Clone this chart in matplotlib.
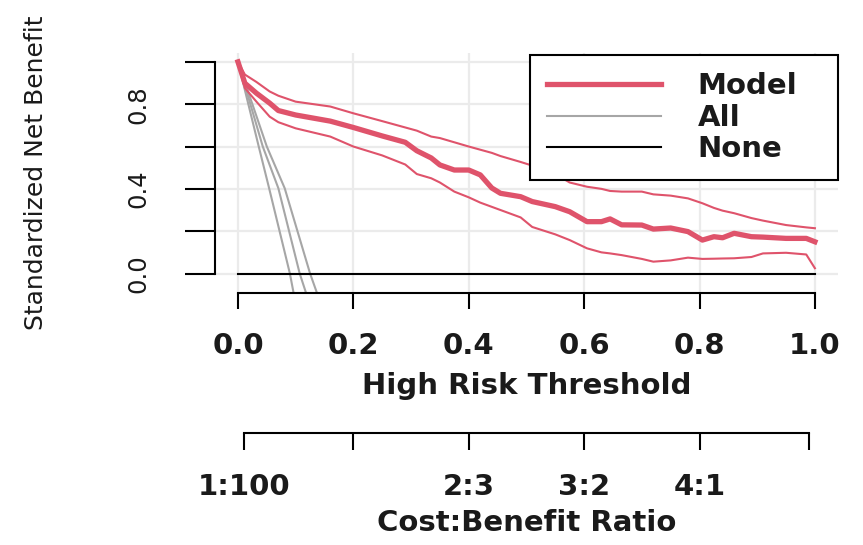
import matplotlib
matplotlib.use("Agg")
import matplotlib.pyplot as plt

thresholds = [0.0, 0.012, 0.032, 0.055, 0.07, 0.1, 0.16, 0.2, 0.25, 0.29, 0.31,
              0.335, 0.35, 0.375, 0.4, 0.42, 0.44, 0.455, 0.49, 0.51, 0.55, 0.575,
              0.605, 0.63, 0.645, 0.665, 0.7, 0.72, 0.75, 0.78, 0.805, 0.825, 0.84,
              0.86, 0.89, 0.91, 0.95, 0.985, 1.0]

model_snb = [1.0, 0.899, 0.852, 0.805, 0.77, 0.749, 0.72, 0.69, 0.65, 0.62, 0.58,
             0.546, 0.513, 0.489, 0.489, 0.466, 0.404, 0.379, 0.363, 0.34, 0.316, 0.292,
             0.245, 0.245, 0.258, 0.23, 0.229, 0.21, 0.215, 0.198, 0.158, 0.174, 0.169,
             0.19, 0.174, 0.172, 0.166, 0.166, 0.15]

model_upper = [1.0, 0.94, 0.905, 0.86, 0.84, 0.812, 0.789, 0.757, 0.72, 0.69, 0.675,
               0.647, 0.64, 0.62, 0.60, 0.585, 0.57, 0.555, 0.527, 0.51, 0.47, 0.43,
               0.41, 0.40, 0.39, 0.387, 0.387, 0.374, 0.368, 0.355, 0.332, 0.31, 0.297,
               0.285, 0.262, 0.25, 0.229, 0.218, 0.214]

model_lower = [1.0, 0.876, 0.812, 0.741, 0.715, 0.686, 0.647, 0.60, 0.558, 0.515, 0.47,
               0.45, 0.43, 0.387, 0.36, 0.335, 0.315, 0.30, 0.265, 0.22, 0.185, 0.158,
               0.119, 0.10, 0.095, 0.087, 0.069, 0.056, 0.062, 0.075, 0.069, 0.07, 0.071,
               0.072, 0.078, 0.095, 0.098, 0.09, 0.025]

# treat-all curves (estimate and CI)
all_thr_a = [0.0, 0.036, 0.054, 0.09, 0.097]
all_snb_a = [1.0, 0.6, 0.403, 0.0, -0.1]
all_thr_b = [0.0, 0.043, 0.07, 0.107, 0.119]
all_snb_b = [1.0, 0.6, 0.403, 0.0, -0.1]
all_thr_c = [0.0, 0.05, 0.081, 0.125, 0.138]
all_snb_c = [1.0, 0.6, 0.403, 0.0, -0.1]

none_thr = [0.0, 1.0]
none_snb = [0.0, 0.0]

x_ticks = [0.0, 0.2, 0.4, 0.6, 0.8, 1.0]
x_labels = ["0.0", "0.2", "0.4", "0.6", "0.8", "1.0"]
y_ticks = [0.0, 0.2, 0.4, 0.6, 0.8, 1.0]
y_labels = ["0.0", "", "0.4", "", "0.8", ""]
cb_ticks = [0.01, 0.2, 0.4, 0.6, 0.8, 0.99]
cb_labels = ["1:100", "", "2:3", "3:2", "4:1", ""]

red = "#DF536B"
gray = "#A6A6A6"
ink = "#1a1a1a"

plt.rcParams["font.family"] = ["DejaVu Sans"]
plt.rcParams["font.weight"] = "bold"
plt.rcParams["text.color"] = ink
plt.rcParams["xtick.labelcolor"] = ink
plt.rcParams["ytick.labelcolor"] = ink
plt.rcParams["axes.labelcolor"] = ink

fig = plt.figure(figsize=(8.63, 5.45), dpi=100)
ax = fig.add_axes([0.249, 0.4624, 0.722, 0.4404])
ax.set_xlim(-0.04, 1.04)
ax.set_ylim(-0.092, 1.042)

ax.grid(True, color="#EBEBEB", linewidth=1.6, zorder=0)
ax.set_axisbelow(True)

l_all, = ax.plot(all_thr_a, all_snb_a, color=gray, lw=1.5, zorder=2)
ax.plot(all_thr_b, all_snb_b, color=gray, lw=1.5, zorder=2)
ax.plot(all_thr_c, all_snb_c, color=gray, lw=1.5, zorder=2)
l_none, = ax.plot(none_thr, none_snb, color="black", lw=1.5, zorder=3)
ax.plot(thresholds, model_upper, color=red, lw=1.5, zorder=4)
ax.plot(thresholds, model_lower, color=red, lw=1.5, zorder=4)
l_model, = ax.plot(thresholds, model_snb, color=red, lw=3.8, zorder=5)

for s in ["top", "right"]:
    ax.spines[s].set_visible(False)
ax.spines["left"].set_bounds(0, 1)
ax.spines["bottom"].set_bounds(0, 1)
for s in ["left", "bottom"]:
    ax.spines[s].set_linewidth(1.5)

ax.set_xticks(x_ticks)
ax.set_xticklabels(x_labels)
ax.set_yticks(y_ticks)
ax.set_yticklabels(y_labels)
ax.tick_params(axis="x", length=11.5, width=1.5, pad=16.5, labelsize=21)
ax.tick_params(axis="y", length=21.6, width=1.5, pad=24.5, labelsize=17.5,
               labelrotation=90)
for t in ax.get_yticklabels():
    t.set_va("center")
    t.set_fontweight("normal")

ax.set_xlabel("High Risk Threshold", fontsize=21, fontweight="bold", labelpad=8.6)
ax.set_ylabel("Standardized Net Benefit", fontsize=18, fontweight="normal")
ax.yaxis.set_label_coords(-0.268, 0.5)

sec = ax.secondary_xaxis(-0.583)
sec.set_xticks(cb_ticks)
sec.set_xticklabels(cb_labels)
sec.spines["bottom"].set_bounds(0.01, 0.99)
sec.spines["bottom"].set_linewidth(1.5)
sec.tick_params(axis="x", length=12, width=1.5, pad=16.5, labelsize=21)
sec.set_xlabel("Cost:Benefit Ratio", fontsize=21, fontweight="bold", labelpad=6)

leg = ax.legend([l_model, l_all, l_none], ["Model", "All", "None"],
                loc="upper right", bbox_to_anchor=(0.5057, 0, 0.4943, 0.99),
                mode="expand", borderaxespad=0, fontsize=21, handlelength=3.9,
                handletextpad=1.27, labelspacing=0.12, borderpad=0.58,
                fancybox=False, edgecolor="black", framealpha=1)
leg.get_frame().set_linewidth(1.5)
leg.set_zorder(10)

fig.savefig("out.png", dpi=100)
